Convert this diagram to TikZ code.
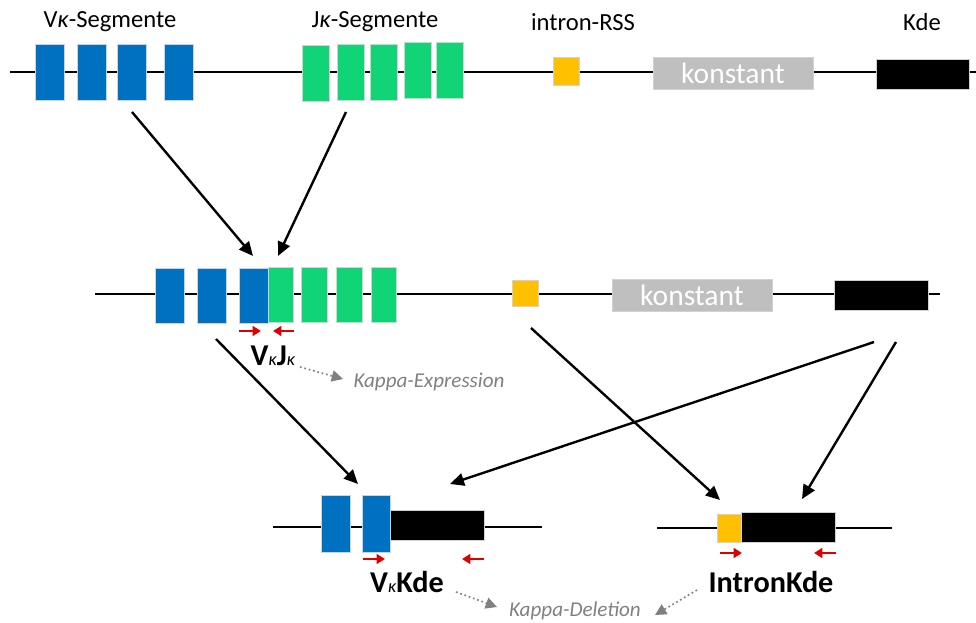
\documentclass[tikz,border=0pt]{standalone}
\usepackage{fontspec}
\setmainfont{Carlito}
\usetikzlibrary{arrows.meta}

\definecolor{vblue}{RGB}{0,112,192}
\definecolor{jgreen}{RGB}{16,212,118}
\definecolor{rssyellow}{RGB}{255,192,0}
\definecolor{constgray}{RGB}{191,191,191}
\definecolor{notegray}{RGB}{128,128,128}
\definecolor{primerred}{RGB}{220,0,0}

\newcommand{\kap}{{\itshape κ}}
\newcommand{\kapsub}{{\mdseries\itshape\fontsize{13}{13}\selectfont κ}}

\tikzset{
  seg/.style={rectangle,inner sep=0pt,outer sep=0pt,draw=gray!35,line width=0.3pt},
  vseg/.style={seg,fill=vblue,minimum width=0.725cm,minimum height=1.4cm},
  jseg/.style={seg,fill=jgreen,minimum width=0.675cm,minimum height=1.4cm},
  rss/.style={seg,fill=rssyellow,minimum width=0.65cm,minimum height=0.7cm},
  kde/.style={seg,fill=black,minimum width=2.35cm,minimum height=0.75cm},
  const/.style={seg,fill=constgray,minimum width=4cm,minimum height=0.8cm,text=white,font=\fontsize{21}{21}\selectfont},
  dna/.style={line width=1.6pt},
  step arrow/.style={line width=1.7pt,-{Triangle[length=10pt,width=9pt]}},
  primer/.style={primerred,line width=2pt,-{Triangle[length=6pt,width=7pt]}},
  note arrow/.style={notegray,line width=1.2pt,dotted,-{Triangle[length=8pt,width=8pt]}},
  lbl/.style={font=\fontsize{17.5}{17.5}\selectfont},
  result/.style={font=\bfseries\fontsize{21.5}{21.5}\selectfont},
  note/.style={text=notegray,font=\itshape\fontsize{15}{15}\selectfont}
}

\begin{document}
\begin{tikzpicture}[x=0.025cm,y=-0.025cm]
\useasboundingbox (0,0) rectangle (976,623);

% germline locus
\draw [dna] (10,72) -- (976,72);
\node [vseg] (v1) at (49.5,72) {};
\node [vseg] (v2) at (91.5,72) {};
\node [vseg] (v3) at (132,72) {};
\node [vseg] (v4) at (178.5,72) {};
\node [jseg] (j1) at (315.5,73) {};
\node [jseg] (j2) at (350.5,72) {};
\node [jseg] (j3) at (384,72) {};
\node [jseg] (j4) at (418,70.5) {};
\node [jseg] (j5) at (450,70) {};
\node [rss] (rss) at (566,71) {};
\node [const] (c) at (733,73) {konstant};
\node [kde,minimum width=2.325cm] (kde) at (922.5,74) {};
\node [lbl] (vlbl) at (110,22) {V\kap-Segmente};
\node [lbl] (jlbl) at (375,22) {J\kap-Segmente};
\node [lbl] (rsslbl) at (583,22) {intron-RSS};
\node [lbl] (kdelbl) at (922,22) {Kde};

% VJ rearranged locus
\draw [dna] (95,294) -- (940,294);
\node [vseg,minimum height=1.375cm] (mv1) at (169.5,295.5) {};
\node [vseg,minimum height=1.375cm] (mv2) at (211.5,295.5) {};
\node [vseg,minimum height=1.375cm] (mv3) at (253.5,295.5) {};
\node [jseg,minimum width=0.625cm,minimum height=1.375cm] (mj1) at (280.5,295) {};
\node [jseg,minimum width=0.65cm,minimum height=1.375cm] (mj2) at (314,294.5) {};
\node [jseg,minimum width=0.65cm,minimum height=1.375cm] (mj3) at (349,294.5) {};
\node [jseg,minimum width=0.625cm,minimum height=1.375cm] (mj4) at (383.5,294.5) {};
\node [rss,minimum height=0.65cm] (mrss) at (525,293) {};
\node [const] (mc) at (692,295) {konstant};
\node [kde] (mkde) at (881,295) {};
\draw [primer] (239,331) -- (261,331);
\draw [primer] (294,331) -- (273,331);
\node [result] (vj) at (273,356) {V\kapsub J\kapsub};
\node [note] (expr) at (429,382) {Kappa-Expression};

% V-Kde deletion
\draw [dna] (273,527) -- (542,527);
\node [vseg,minimum height=1.425cm] (dv1) at (335.5,523.5) {};
\node [vseg,minimum width=0.7cm,minimum height=1.425cm] (dv2) at (376,523.5) {};
\node [kde] (dkde) at (437,525) {};
\draw [primer] (363,559) -- (385,559);
\draw [primer] (484,559) -- (462,559);
\node [result] (vkde) at (407,582) {V\kapsub Kde};

% intron-Kde deletion
\draw [dna] (657,528) -- (892,528);
\node [rss,minimum width=0.6cm] (irss) at (729,528) {};
\node [kde] (ikde) at (788,527) {};
\draw [primer] (720,553) -- (742,553);
\draw [primer] (836,553) -- (814,553);
\node [result] (ikdelbl) at (771,582) {IntronKde};
\node [note] (del) at (575,611) {Kappa-Deletion};

% recombination arrows
\coordinate (a1s) at (132,112);  \coordinate (a1e) at (253,256);
\coordinate (a2s) at (346,112);  \coordinate (a2e) at (278,256);
\coordinate (a3s) at (216,339);  \coordinate (a3e) at (358,484);
\coordinate (a4s) at (531,328);  \coordinate (a4e) at (720,500);
\coordinate (a5s) at (874,342);  \coordinate (a5e) at (450,484);
\coordinate (a6s) at (896,342);  \coordinate (a6e) at (802,499);
\draw [step arrow] (a1s) -- (a1e);
\draw [step arrow] (a2s) -- (a2e);
\draw [step arrow] (a3s) -- (a3e);
\draw [step arrow] (a4s) -- (a4e);
\draw [step arrow] (a5s) -- (a5e);
\draw [step arrow] (a6s) -- (a6e);

% notes
\coordinate (n1s) at (300,367);  \coordinate (n1e) at (343,379);
\coordinate (n2s) at (456,592);  \coordinate (n2e) at (497,607);
\coordinate (n3s) at (697,590);  \coordinate (n3e) at (655,615);
\draw [note arrow] (n1s) -- (n1e);
\draw [note arrow] (n2s) -- (n2e);
\draw [note arrow] (n3s) -- (n3e);
\end{tikzpicture}
\end{document}
